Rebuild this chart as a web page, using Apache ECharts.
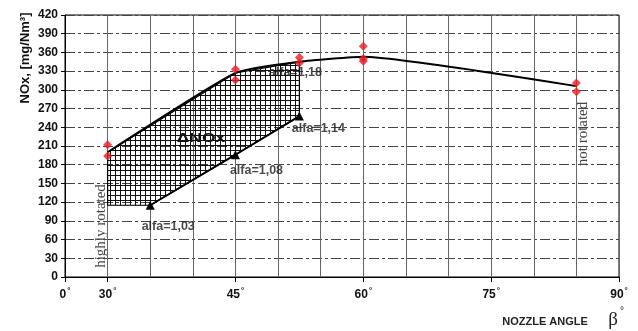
<!DOCTYPE html>
<html><head><meta charset="utf-8">
<script src="https://cdn.jsdelivr.net/npm/echarts@6/dist/echarts.min.js"></script>
<style>html,body{margin:0;padding:0;background:#fff}#c{width:638px;height:331px}</style>
</head><body><div id="c"></div>
<script>
// ---- data (nozzle angle β in degrees, NOx in mg/Nm3) ----
const xLabelAngles = [0, 30, 45, 60, 75, 90];
const upperAngles = [30, 45, 52.5, 60, 85];
const upperNox = [200, 327, 345, 353, 306];
const redAngles = [30, 30, 45, 45, 52.5, 52.5, 60, 60, 60, 85, 85];
const redNox = [212, 194, 333, 316, 352, 343, 370, 350, 346, 311, 297];
const alfaAngles = [35, 45, 52.5];
const alfaNox = [115, 196, 258];
const labelAngles = [35, 45, 52.5, 52.5];
const labelNox = [115, 196, 258, 345];
const labelTexts = ['alfa=1,03', 'alfa=1,08', 'alfa=1,14', 'alfa=1,18'];
const hatchAngles = [30, 45, 52.5, 52.5, 45, 35, 30];
const hatchNox = [200, 327, 345, 258, 196, 115, 115];

// label offsets (style)
const labelOffsets = [[18, 21], [21, 16], [19, 12], [-4, 11]];

// broken angle axis: 0..30 compressed into one step, then 5 degrees per step
const toU = b => b <= 30 ? b / 30 : 1 + (b - 30) / 5;
const fromU = u => u <= 1 ? u * 30 : 30 + (u - 1) * 5;
const majorU = xLabelAngles.map(toU);

// hatch pattern
const pc = document.createElement('canvas');
pc.width = 5; pc.height = 5;
const g = pc.getContext('2d');
g.fillStyle = '#111';
g.fillRect(0, 0, 5, 1);
g.fillRect(0, 0, 1, 5);

const chart = echarts.init(document.getElementById('c'));
const SANS = 'Liberation Sans, Arial, sans-serif';
const SERIF = 'Liberation Serif, Times New Roman, serif';

chart.setOption({
  animation: false,
  grid: {left: 65, right: 19, top: 15, bottom: 54, show: true, borderColor: '#000', borderWidth: 1},
  xAxis: [{
    type: 'value', min: 0, max: 13, interval: 1,
    axisLine: {show: false}, axisTick: {show: false}, axisLabel: {show: false},
    splitLine: {show: true, lineStyle: {color: '#666', width: 1}}
  }, {
    type: 'value', min: 0, max: 13, interval: 1, position: 'bottom',
    axisLine: {lineStyle: {color: '#000', width: 1}},
    axisTick: {customValues: majorU, length: 5, lineStyle: {color: '#000'}},
    axisLabel: {
      customValues: majorU, margin: 10,
      formatter: v => `{n|${Math.round(fromU(v))}}{d|°}`,
      rich: {
        n: {fontFamily: SANS, fontWeight: 'bold', fontSize: 12, color: '#111'},
        d: {fontFamily: SANS, fontWeight: 'bold', fontSize: 8, color: '#111', verticalAlign: 'top', padding: [0, 0, 7, 1]}
      }
    },
    splitLine: {show: false}
  }],
  yAxis: {
    type: 'value', min: 0, max: 420, interval: 30,
    axisLine: {show: true, lineStyle: {color: '#000', width: 1}},
    axisTick: {show: true, length: 4, lineStyle: {color: '#000'}},
    axisLabel: {fontFamily: SANS, fontWeight: 'bold', fontSize: 12, color: '#111', margin: 7},
    splitLine: {show: true, lineStyle: {color: '#444', width: 1, type: [10, 3, 3, 3]}}
  },
  graphic: [
    {type: 'text', x: 25, y: 58, rotation: Math.PI / 2,
      style: {text: 'NOx, [mg/Nm³]', font: 'bold 13px ' + SANS, fill: '#111', align: 'center', verticalAlign: 'middle'}},
    {type: 'text', x: 545, y: 322,
      style: {text: 'NOZZLE ANGLE', font: 'bold 11px ' + SANS, fill: '#222', align: 'center', verticalAlign: 'middle'}},
    {type: 'text', x: 613, y: 320,
      style: {text: 'β', font: '19px ' + SERIF, fill: '#222', align: 'center', verticalAlign: 'middle'}},
    {type: 'text', x: 622, y: 311,
      style: {text: '°', font: '10px ' + SANS, fill: '#222', align: 'center', verticalAlign: 'middle'}},
    {type: 'text', x: 201, y: 139, scaleX: 1.45,
      style: {text: 'ΔNOx', font: 'bold 12px ' + SANS, fill: '#111', align: 'center', verticalAlign: 'middle'}},
    {type: 'text', x: 101, y: 226, rotation: Math.PI / 2,
      style: {text: 'highly rotated', font: '15px ' + SERIF, fill: '#444', align: 'center', verticalAlign: 'middle'}},
    {type: 'text', x: 583, y: 134, rotation: Math.PI / 2,
      style: {text: 'not rotated', font: '15px ' + SERIF, fill: '#444', align: 'center', verticalAlign: 'middle'}}
  ],
  series: [
    {
      type: 'custom', z: 1,
      data: [[toU(hatchAngles[0]), hatchNox[0]]],
      renderItem: (params, api) => {
        const pts = hatchAngles.map((b, i) => api.coord([toU(b), hatchNox[i]]));
        return {type: 'polygon', shape: {points: pts},
          style: {fill: {image: pc, repeat: 'repeat'}, stroke: '#000', lineWidth: 1.2}};
      }
    },
    {
      type: 'line', z: 3, smooth: 0.15, symbol: 'none',
      lineStyle: {color: '#000', width: 2},
      data: upperAngles.map((b, i) => [toU(b), upperNox[i]])
    },
    {
      type: 'line', z: 3, symbol: 'triangle', symbolSize: 9,
      itemStyle: {color: '#000'}, lineStyle: {color: '#000', width: 2},
      data: alfaAngles.map((b, i) => [toU(b), alfaNox[i]])
    },
    {
      type: 'scatter', z: 4, symbol: 'diamond', symbolSize: 9,
      itemStyle: {color: '#ee1c24'},
      data: redAngles.map((b, i) => [toU(b), redNox[i]])
    },
    {
      type: 'scatter', z: 5, symbolSize: 1, itemStyle: {color: 'rgba(0,0,0,0)'},
      data: labelAngles.map((b, i) => ({
        value: [toU(b), labelNox[i]],
        label: {show: true, position: 'inside', offset: labelOffsets[i], formatter: labelTexts[i],
          fontFamily: SANS, fontWeight: 'bold', fontSize: 12.5, color: '#1a1a1a'}
      }))
    }
  ]
});
</script>
</body></html>
